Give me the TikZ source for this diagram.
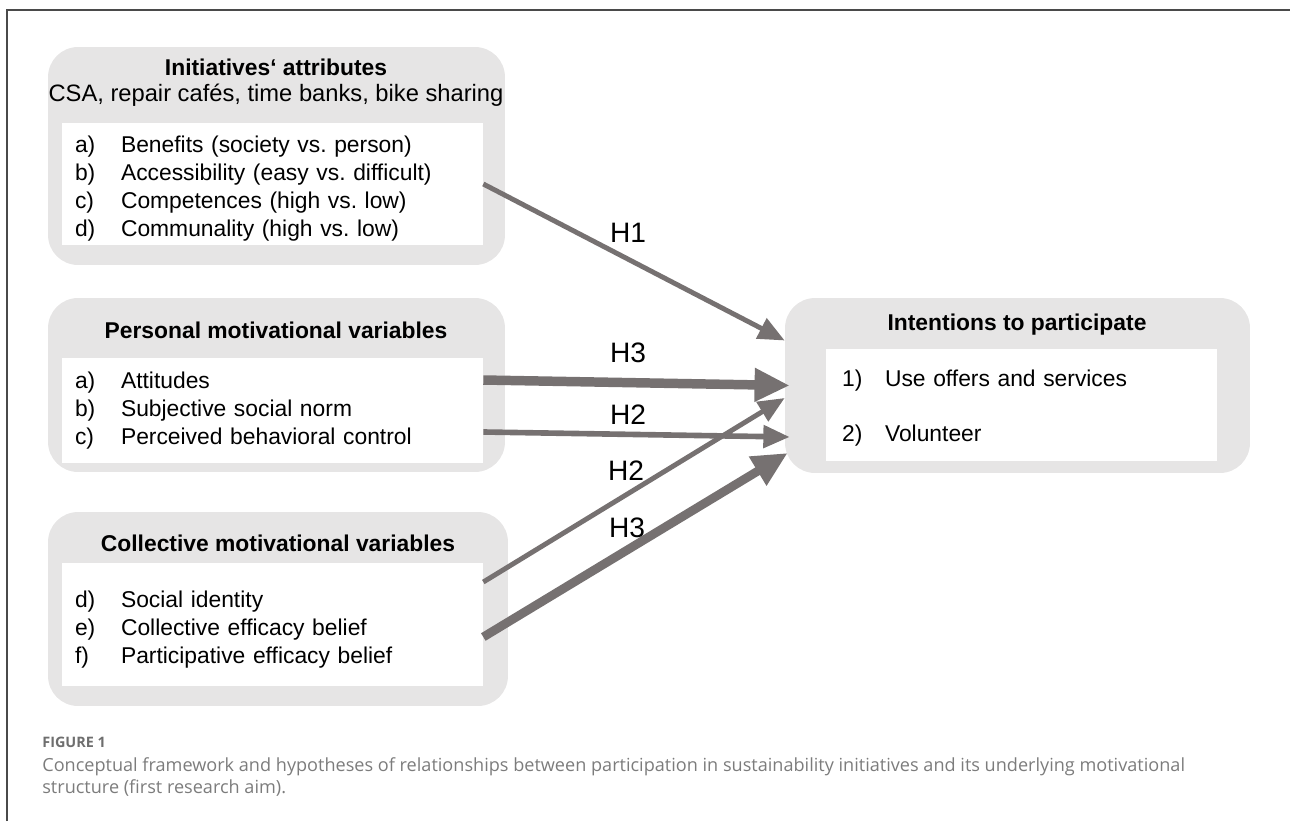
\documentclass[tikz,border=0pt]{standalone}
\usepackage{fontspec}
\setmainfont{Liberation Sans}
\newfontfamily\capfont{Open Sans}
\usetikzlibrary{arrows.meta,positioning}
\definecolor{boxgray}{HTML}{E6E5E5}
\definecolor{arrowgray}{HTML}{767171}
\definecolor{framegray}{HTML}{4A4A4A}
\definecolor{capgray}{HTML}{7C7C7C}
\definecolor{figgray}{HTML}{6E6E6E}
\frenchspacing
\newcommand{\itm}[2]{\makebox[0.92cm][l]{#1}#2}
\newcommand{\num}[2]{\makebox[0.86cm][l]{#1}#2}
\newcommand{\topgap}[1]{\mbox{}\\[#1]}

\begin{document}
\begin{tikzpicture}[x=0.02cm, y=-0.02cm, font=\fontsize{13}{15.9}\selectfont,
  outer/.style={fill=boxgray, rounded corners=0.6cm, inner sep=0pt},
  inner/.style={fill=white, align=left, inner xsep=0.26cm, inner ysep=0pt},
  heading/.style={font=\fontsize{13}{15.9}\selectfont\bfseries},
  hyp/.style={color=arrowgray, line width=2.8pt, -{Triangle[length=15pt,width=12.5pt]}},
  hypthick/.style={color=arrowgray, line width=5.4pt, -{Triangle[length=20pt,width=18pt]}},
  hlabel/.style={font=\fontsize{16}{19}\selectfont}]
  \useasboundingbox (0,0) rectangle (1290,821);
  \draw[framegray, line width=1.1pt] (7,821) -- (7,10) -- (1290,10);

  % initiatives
  \node[outer, minimum width=9.14cm, minimum height=4.36cm] (attr) at (276.5,156) {};
  \node[heading] (attrtitle) at (276,67) {Initiatives‘ attributes};
  \node[font=\fontsize{13.5}{16}\selectfont] (attrsub) at (276,95) {CSA, repair cafés, time banks, bike sharing};
  \node[inner, text width=7.9cm, minimum height=2.44cm] (attrin) at (272.5,184)
    {\topgap{-1.1pt}
     \itm{a)}{Benefits (society vs. person)}\\
     \itm{b)}{Accessibility (easy vs. difficult)}\\
     \itm{c)}{Competences (high vs. low)}\\
     \itm{d)}{Communality (high vs. low)}};

  % personal
  \node[outer, minimum width=9.14cm, minimum height=3.48cm] (pers) at (276.5,385) {};
  \node[heading] (perstitle) at (276,330) {Personal motivational variables};
  \node[inner, text width=7.9cm, minimum height=2.1cm] (persin) at (272.5,410.5)
    {\itm{a)}{Attitudes}\\
     \itm{b)}{Subjective social norm}\\
     \itm{c)}{Perceived behavioral control}};

  % collective
  \node[outer, minimum width=9.2cm, minimum height=3.88cm] (coll) at (278,609) {};
  \node[heading] (colltitle) at (278,543) {Collective motivational variables};
  \node[inner, text width=7.9cm, minimum height=2.46cm] (collin) at (272.5,624.5)
    {\topgap{-1.1pt}
     \itm{d)}{Social identity}\\
     \itm{e)}{Collective efficacy belief}\\
     \itm{f)}{Participative efficacy belief}};

  % intentions
  \node[outer, minimum width=9.3cm, minimum height=3.5cm] (intent) at (1017.5,385.5) {};
  \node[heading] (intenttitle) at (1017,325) {Intentions to participate};
  \node[inner, inner xsep=0.32cm, text width=7.18cm, minimum height=2.24cm] (intentin) at (1021.5,405)
    {\topgap{-3.4pt}
     \num{1)}{Use offers and services}\\[15.3pt]
     \num{2)}{Volunteer}};

  % hypotheses
  \draw[hyp] (attrin.east) -- ([yshift=0.9cm]intent.west);
  \draw[hypthick] ([yshift=0.61cm]persin.east) -- ([xshift=0.1cm]intent.west);
  \draw[hyp, line width=3.2pt] ([yshift=-0.43cm]persin.east) -- ([xshift=0.1cm,yshift=-1.03cm]intent.west);
  \draw[hyp] ([yshift=0.85cm]collin.east) -- ([yshift=-0.25cm]intent.west);
  \draw[hypthick, line width=5pt] ([yshift=-0.25cm]collin.east) -- ([xshift=0.06cm,yshift=-1.35cm]intent.west);

  \node[hlabel] (h1) at (628,233) {H1};
  \node[hlabel] (h3a) at (628,353) {H3};
  \node[hlabel] (h2a) at (628,415) {H2};
  \node[hlabel] (h2b) at (626,471) {H2};
  \node[hlabel] (h3b) at (627,528) {H3};

  % caption
  \node[anchor=base west, inner sep=0pt, text=figgray, font=\capfont\bfseries\fontsize{8.2}{9.5}\selectfont] (figlabel) at (42,747) {FIGURE 1};
  \node[anchor=base west, inner sep=0pt, text=capgray, font=\capfont\fontsize{10.3}{12.5}\selectfont] (capline1) at (42,771)
    {Conceptual framework and hypotheses of relationships between participation in sustainability initiatives and its underlying motivational};
  \node[anchor=base west, inner sep=0pt, text=capgray, font=\capfont\fontsize{10.3}{12.5}\selectfont] (capline2) at (42,793)
    {structure (first research aim).};
\end{tikzpicture}
\end{document}
